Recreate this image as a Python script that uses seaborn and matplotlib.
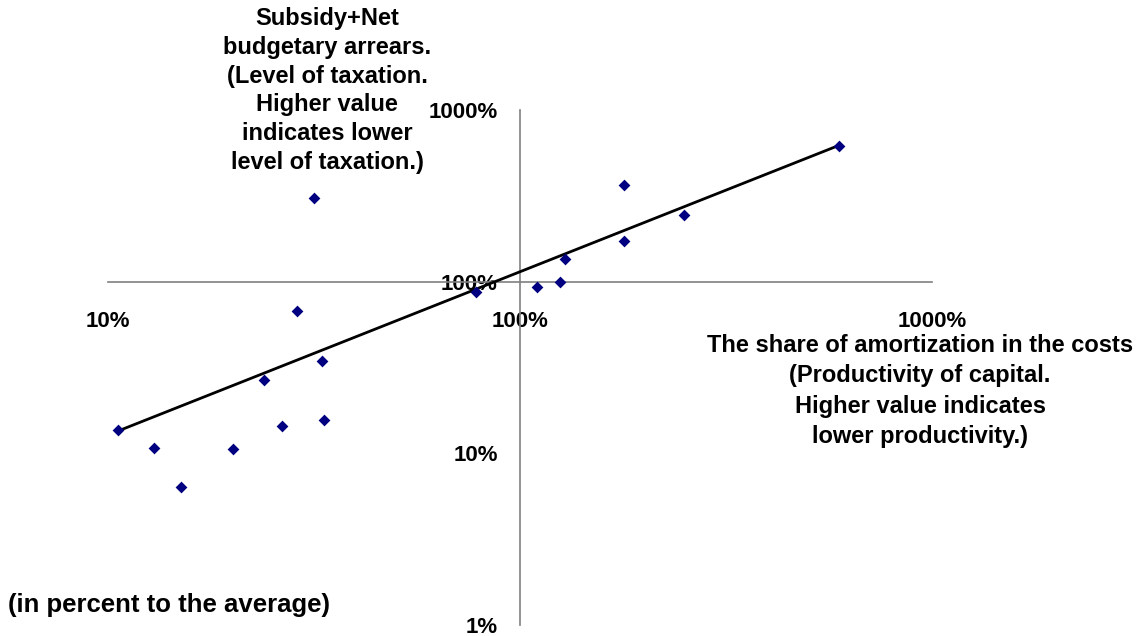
import numpy as np
import pandas as pd
import matplotlib
matplotlib.use("Agg")
import matplotlib.pyplot as plt
import seaborn as sns

# datos (1.0 = 100% = promedio)
amortization_share = [0.106, 0.129, 0.150, 0.201, 0.239, 0.264, 0.287, 0.317, 0.330,
                      0.334, 0.782, 1.097, 1.253, 1.285, 1.783, 1.787, 2.50, 5.93]
subsidy_arrears = [0.137, 0.107, 0.0637, 0.106, 0.267, 0.144, 0.671, 3.06, 0.346,
                   0.157, 0.875, 0.926, 1.0, 1.356, 1.73, 3.66, 2.43, 6.15]

# linea de tendencia (potencia): y = coef * x^exp
trend_coef = 1.143
trend_exp = 0.951

x_ticks = [0.1, 1, 10]
x_ticklabels = ["10%", "100%", "1000%"]
y_ticks = [0.01, 0.1, 1, 10]
y_ticklabels = ["1%", "10%", "100%", "1000%"]

df = pd.DataFrame({"x": amortization_share, "y": subsidy_arrears})
xs = np.geomspace(min(amortization_share), max(amortization_share), 100)
trend = pd.DataFrame({"x": xs, "y": trend_coef * xs ** trend_exp})

sns.set_style("white")
plt.rcParams["font.family"] = ["Liberation Sans", "DejaVu Sans"]
plt.rcParams["font.weight"] = "bold"
plt.rcParams["text.color"] = "black"
plt.rcParams["xtick.color"] = "black"
plt.rcParams["ytick.color"] = "black"

fig = plt.figure(figsize=(11.36, 6.36), dpi=100)
ax = fig.add_axes([0.0951, 0.0173, 0.7254, 0.8097])

sns.lineplot(data=trend, x="x", y="y", color="black", linewidth=2, ax=ax, zorder=3)
sns.scatterplot(data=df, x="x", y="y", marker="D", color="#000080", s=36,
                edgecolor="#000080", linewidth=0, ax=ax, zorder=4)

ax.set_xscale("log")
ax.set_yscale("log")
ax.set_xlim(0.1, 10)
ax.set_ylim(0.01, 10)

ax.spines["left"].set_position(("data", 1))
ax.spines["bottom"].set_position(("data", 1))
ax.spines["top"].set_visible(False)
ax.spines["right"].set_visible(False)
for s in ["left", "bottom"]:
    ax.spines[s].set_color("#808080")
    ax.spines[s].set_linewidth(1.2)

ax.set_xticks(x_ticks)
ax.set_xticklabels(x_ticklabels)
ax.set_yticks(y_ticks)
ax.set_yticklabels(y_ticklabels)
ax.minorticks_off()
ax.tick_params(axis="x", direction="out", length=5, width=1.2, color="#808080",
               labelcolor="black", pad=16, labelsize=16)
ax.tick_params(axis="y", direction="out", length=6, width=1.2, color="#808080",
               labelcolor="black", pad=10, labelsize=16)
for lab in ax.get_xticklabels() + ax.get_yticklabels():
    lab.set_fontweight("bold")
ax.set_xlabel("")
ax.set_ylabel("")

fig.text(0.288, 0.8577, "Subsidy+Net\nbudgetary arrears.\n(Level of taxation.\nHigher value\n"
         "indicates lower\nlevel of taxation.)", ha="center", va="center",
         multialignment="center", fontsize=17, fontweight="bold", linespacing=1.32)
fig.text(0.810, 0.3852, "The share of amortization in the costs\n(Productivity of capital.\n"
         "Higher value indicates\nlower productivity.)", ha="center", va="center",
         multialignment="center", fontsize=17, fontweight="bold", linespacing=1.41)
fig.text(0.007, 0.0487, "(in percent to the average)", ha="left", va="center",
         fontsize=18.5, fontweight="bold")

plt.savefig("out.png", dpi=100)
